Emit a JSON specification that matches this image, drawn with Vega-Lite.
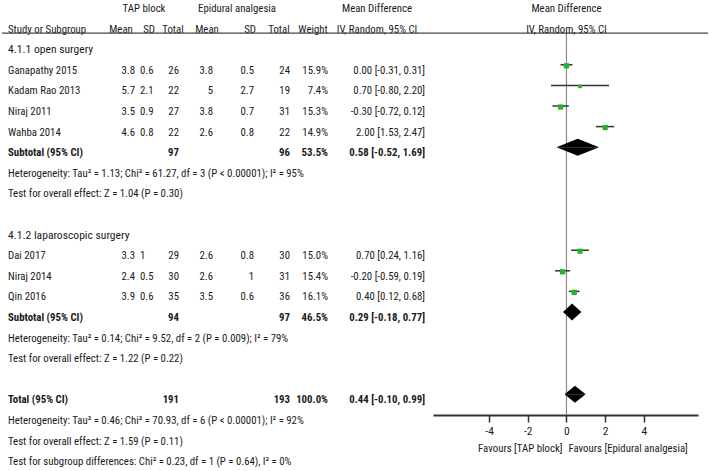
{
  "$schema": "https://vega.github.io/schema/vega-lite/v6.json",
  "width": 709,
  "height": 471,
  "autosize": {"type": "fit", "contains": "padding"},
  "padding": 0,
  "config": {
    "view": {"stroke": null},
    "text": {"font": "Roboto Condensed", "fontSize": 10.8, "color": "#1a1a1a", "baseline": "middle", "dy": 6},
    "axis": {"labelFont": "Roboto Condensed", "grid": false}
  },
  "datasets": {
    "rows": [
      {"row": 3, "kind": "study", "study": "Ganapathy 2015", "m1": "3.8", "sd1": "0.6", "n1": "26", "m2": "3.8", "sd2": "0.5", "n2": "24", "w": "15.9%", "md": "0.00 [-0.31, 0.31]", "weight": 15.9, "est": 0.0, "lo": -0.31, "hi": 0.31},
      {"row": 4, "kind": "study", "study": "Kadam Rao 2013", "m1": "5.7", "sd1": "2.1", "n1": "22", "m2": "5", "sd2": "2.7", "n2": "19", "w": "7.4%", "md": "0.70 [-0.80, 2.20]", "weight": 7.4, "est": 0.7, "lo": -0.8, "hi": 2.2},
      {"row": 5, "kind": "study", "study": "Niraj 2011", "m1": "3.5", "sd1": "0.9", "n1": "27", "m2": "3.8", "sd2": "0.7", "n2": "31", "w": "15.3%", "md": "-0.30 [-0.72, 0.12]", "weight": 15.3, "est": -0.3, "lo": -0.72, "hi": 0.12},
      {"row": 6, "kind": "study", "study": "Wahba 2014", "m1": "4.6", "sd1": "0.8", "n1": "22", "m2": "2.6", "sd2": "0.8", "n2": "22", "w": "14.9%", "md": "2.00 [1.53, 2.47]", "weight": 14.9, "est": 2.0, "lo": 1.53, "hi": 2.47},
      {"row": 7, "kind": "subtotal", "study": "Subtotal (95% CI)", "n1": "97", "n2": "96", "w": "53.5%", "md": "0.58 [-0.52, 1.69]", "weight": 53.5, "est": 0.58, "lo": -0.52, "hi": 1.69},
      {"row": 12, "kind": "study", "study": "Dai 2017", "m1": "3.3", "sd1": "1", "n1": "29", "m2": "2.6", "sd2": "0.8", "n2": "30", "w": "15.0%", "md": "0.70 [0.24, 1.16]", "weight": 15.0, "est": 0.7, "lo": 0.24, "hi": 1.16},
      {"row": 13, "kind": "study", "study": "Niraj 2014", "m1": "2.4", "sd1": "0.5", "n1": "30", "m2": "2.6", "sd2": "1", "n2": "31", "w": "15.4%", "md": "-0.20 [-0.59, 0.19]", "weight": 15.4, "est": -0.2, "lo": -0.59, "hi": 0.19},
      {"row": 14, "kind": "study", "study": "Qin 2016", "m1": "3.9", "sd1": "0.6", "n1": "35", "m2": "3.5", "sd2": "0.6", "n2": "36", "w": "16.1%", "md": "0.40 [0.12, 0.68]", "weight": 16.1, "est": 0.4, "lo": 0.12, "hi": 0.68},
      {"row": 15, "kind": "subtotal", "study": "Subtotal (95% CI)", "n1": "94", "n2": "97", "w": "46.5%", "md": "0.29 [-0.18, 0.77]", "weight": 46.5, "est": 0.29, "lo": -0.18, "hi": 0.77},
      {"row": 19, "kind": "total", "study": "Total (95% CI)", "n1": "191", "n2": "193", "w": "100.0%", "md": "0.44 [-0.10, 0.99]", "weight": 100, "est": 0.44, "lo": -0.1, "hi": 0.99}
    ],
    "notes": [
      {"row": 2, "col": "study", "kind": "subgroup", "text": "4.1.1 open surgery"},
      {"row": 8, "col": "study", "kind": "stat", "text": "Heterogeneity: Tau² = 1.13; Chi² = 61.27, df = 3 (P < 0.00001); I² = 95%"},
      {"row": 9, "col": "study", "kind": "stat", "text": "Test for overall effect: Z = 1.04 (P = 0.30)"},
      {"row": 11, "col": "study", "kind": "subgroup", "text": "4.1.2 laparoscopic surgery"},
      {"row": 16, "col": "study", "kind": "stat", "text": "Heterogeneity: Tau² = 0.14; Chi² = 9.52, df = 2 (P = 0.009); I² = 79%"},
      {"row": 17, "col": "study", "kind": "stat", "text": "Test for overall effect: Z = 1.22 (P = 0.22)"},
      {"row": 20, "col": "study", "kind": "stat", "text": "Heterogeneity: Tau² = 0.46; Chi² = 70.93, df = 6 (P < 0.00001); I² = 92%"},
      {"row": 21, "col": "study", "kind": "stat", "text": "Test for overall effect: Z = 1.59 (P = 0.11)"},
      {"row": 22, "col": "study", "kind": "stat", "text": "Test for subgroup differences: Chi² = 0.23, df = 1 (P = 0.64), I² = 0%"}
    ],
    "headers": [
      {"row": 0, "col": "tap", "text": "TAP block"},
      {"row": 0, "col": "epi", "text": "Epidural analgesia"},
      {"row": 0, "col": "hmd", "text": "Mean Difference"},
      {"row": 1, "col": "study", "text": "Study or Subgroup"},
      {"row": 1, "col": "hm1", "text": "Mean"},
      {"row": 1, "col": "hsd1", "text": "SD"},
      {"row": 1, "col": "hn1", "text": "Total"},
      {"row": 1, "col": "hm2", "text": "Mean"},
      {"row": 1, "col": "hsd2", "text": "SD"},
      {"row": 1, "col": "hn2", "text": "Total"},
      {"row": 1, "col": "hw", "text": "Weight"},
      {"row": 1, "col": "hmd", "text": "IV, Random, 95% CI"}
    ],
    "columns": [
      {"col": "study", "ci": 0}, {"col": "hm1", "ci": 1}, {"col": "m1", "ci": 2}, {"col": "sd1", "ci": 3},
      {"col": "tap", "ci": 4}, {"col": "hsd1", "ci": 5}, {"col": "hn1", "ci": 6}, {"col": "n1", "ci": 7},
      {"col": "hm2", "ci": 8}, {"col": "m2", "ci": 9}, {"col": "epi", "ci": 10}, {"col": "hsd2", "ci": 11},
      {"col": "sd2", "ci": 12}, {"col": "hn2", "ci": 13}, {"col": "n2", "ci": 14}, {"col": "hw", "ci": 15},
      {"col": "w", "ci": 16}, {"col": "hmd", "ci": 17}, {"col": "md", "ci": 18}
    ],
    "plotHeaders": [
      {"row": 0, "text": "Mean Difference"},
      {"row": 1, "text": "IV, Random, 95% CI"}
    ],
    "favours": [
      {"side": "left", "text": "Favours [TAP block]"},
      {"side": "right", "text": "Favours [Epidural analgesia]"}
    ],
    "origin": [
      {"value": 0}
    ]
  },
  "resolve": {"scale": {"x": "independent"}, "axis": {"x": "independent"}},
  "layer": [
    {
      "layer": [
        {
          "data": {"name": "headers"},
          "transform": [
            {"lookup": "col", "from": {"data": {"name": "columns"}, "key": "col", "fields": ["ci"]}},
            {"filter": "datum.col !== 'study'"}
          ],
          "mark": {"type": "text", "align": "center"},
          "encoding": {
            "x": {"field": "ci", "type": "quantitative", "axis": null,
              "scale": {
                "type": "linear", "nice": false, "zero": false,
                "domain": [0, 1, 2, 3, 4, 5, 6, 7, 8, 9, 10, 11, 12, 13, 14, 15, 16, 17, 18],
                "range": [8, 121, 135, 140, 144, 149, 173, 179, 207, 213, 237, 250, 254, 279, 290, 313, 328, 377, 425]
              }
            },
            "y": {"field": "row", "type": "quantitative", "scale": {"domain": [-0.146, 22.72], "reverse": true, "nice": false, "zero": false}, "axis": null},
            "text": {"field": "text"}
          }
        },
        {
          "data": {"name": "headers"},
          "transform": [
            {"lookup": "col", "from": {"data": {"name": "columns"}, "key": "col", "fields": ["ci"]}},
            {"filter": "datum.col === 'study'"}
          ],
          "mark": {"type": "text", "align": "left"},
          "encoding": {
            "x": {"field": "ci", "type": "quantitative"},
            "y": {"field": "row", "type": "quantitative"},
            "text": {"field": "text"}
          }
        },
        {
          "data": {"name": "notes"},
          "transform": [
            {"filter": "datum.kind === 'stat'"},
            {"lookup": "col", "from": {"data": {"name": "columns"}, "key": "col", "fields": ["ci"]}}
          ],
          "mark": {"type": "text", "align": "left"},
          "encoding": {"x": {"field": "ci", "type": "quantitative"}, "y": {"field": "row", "type": "quantitative"}, "text": {"field": "text"}}
        },
        {
          "data": {"name": "notes"},
          "transform": [
            {"filter": "datum.kind === 'subgroup'"},
            {"lookup": "col", "from": {"data": {"name": "columns"}, "key": "col", "fields": ["ci"]}}
          ],
          "mark": {"type": "text", "align": "left", "fontSize": 11.6},
          "encoding": {"x": {"field": "ci", "type": "quantitative"}, "y": {"field": "row", "type": "quantitative"}, "text": {"field": "text"}}
        },
        {
          "data": {"name": "rows"},
          "transform": [
            {"fold": ["study", "m1", "sd1", "n1", "m2", "sd2", "n2", "w", "md"], "as": ["col", "text"]},
            {"filter": "isValid(datum.text) && (datum.col === 'study' || datum.col === 'sd1') && datum.kind === 'study'"},
            {"lookup": "col", "from": {"data": {"name": "columns"}, "key": "col", "fields": ["ci"]}}
          ],
          "mark": {"type": "text", "align": "left"},
          "encoding": {"x": {"field": "ci", "type": "quantitative"}, "y": {"field": "row", "type": "quantitative"}, "text": {"field": "text"}}
        },
        {
          "data": {"name": "rows"},
          "transform": [
            {"fold": ["study", "m1", "sd1", "n1", "m2", "sd2", "n2", "w", "md"], "as": ["col", "text"]},
            {"filter": "isValid(datum.text) && datum.col === 'study' && datum.kind !== 'study'"},
            {"lookup": "col", "from": {"data": {"name": "columns"}, "key": "col", "fields": ["ci"]}}
          ],
          "mark": {"type": "text", "align": "left", "fontWeight": "bold"},
          "encoding": {"x": {"field": "ci", "type": "quantitative"}, "y": {"field": "row", "type": "quantitative"}, "text": {"field": "text"}}
        },
        {
          "data": {"name": "rows"},
          "transform": [
            {"fold": ["study", "m1", "sd1", "n1", "m2", "sd2", "n2", "w", "md"], "as": ["col", "text"]},
            {"filter": "isValid(datum.text) && datum.col !== 'study' && datum.col !== 'sd1' && datum.kind === 'study'"},
            {"lookup": "col", "from": {"data": {"name": "columns"}, "key": "col", "fields": ["ci"]}}
          ],
          "mark": {"type": "text", "align": "right"},
          "encoding": {"x": {"field": "ci", "type": "quantitative"}, "y": {"field": "row", "type": "quantitative"}, "text": {"field": "text"}}
        },
        {
          "data": {"name": "rows"},
          "transform": [
            {"fold": ["study", "m1", "sd1", "n1", "m2", "sd2", "n2", "w", "md"], "as": ["col", "text"]},
            {"filter": "isValid(datum.text) && datum.col !== 'study' && datum.col !== 'sd1' && datum.kind !== 'study'"},
            {"lookup": "col", "from": {"data": {"name": "columns"}, "key": "col", "fields": ["ci"]}}
          ],
          "mark": {"type": "text", "align": "right", "fontWeight": "bold"},
          "encoding": {"x": {"field": "ci", "type": "quantitative"}, "y": {"field": "row", "type": "quantitative"}, "text": {"field": "text"}}
        }
      ]
    },
    {
      "layer": [
        {
          "data": {"name": "origin"},
          "mark": {"type": "rule", "color": "#8a8a8a", "strokeWidth": 1.2},
          "encoding": {
            "x": {"field": "value", "type": "quantitative",
              "scale": {"domain": [-6.9, 6.8], "range": [433, 698], "nice": false, "zero": false},
              "axis": {"values": [-4, -2, 0, 2, 4], "orient": "bottom", "offset": -56, "title": null,
                "domainColor": "#333", "domainWidth": 2, "tickColor": "#333", "tickWidth": 1.5, "tickSize": 7,
                "labelFontSize": 11.5, "labelColor": "#1a1a1a", "labelPadding": 3, "labelExpr": "datum.value + ''",
                "labelFont": "Roboto Condensed"}
            },
            "y": {"datum": 1.46, "type": "quantitative"},
            "y2": {"datum": 20}
          }
        },
        {
          "data": {"name": "origin"},
          "mark": {"type": "rule", "color": "#444", "strokeWidth": 1.3},
          "encoding": {
            "x": {"value": 2},
            "x2": {"value": "width"},
            "y": {"datum": 1.46, "type": "quantitative"}
          }
        },
        {
          "data": {"name": "rows"},
          "transform": [{"filter": "datum.kind === 'study'"}],
          "mark": {"type": "rule", "color": "#333", "strokeWidth": 1.5},
          "encoding": {
            "x": {"field": "lo", "type": "quantitative"},
            "x2": {"field": "hi"},
            "y": {"field": "row", "type": "quantitative"}
          }
        },
        {
          "data": {"name": "rows"},
          "transform": [{"filter": "datum.kind === 'study'"}],
          "mark": {"type": "point", "shape": "square", "filled": true, "color": "#22b522", "opacity": 1, "yOffset": 1},
          "encoding": {
            "x": {"field": "est", "type": "quantitative"},
            "y": {"field": "row", "type": "quantitative"},
            "size": {"field": "weight", "type": "quantitative", "scale": {"domain": [0, 16], "range": [0, 28]}, "legend": null}
          }
        },
        {
          "data": {"name": "rows"},
          "transform": [
            {"filter": "datum.kind !== 'study'"},
            {"fold": ["lo", "est", "hi"], "as": ["part", "xv"]}
          ],
          "mark": {"type": "area", "color": "#000", "opacity": 1, "yOffset": {"expr": "datum.part === 'est' ? -8.5 : 0"}},
          "encoding": {
            "x": {"field": "xv", "type": "quantitative"},
            "y": {"field": "row", "type": "quantitative"},
            "y2": {"field": "row"},
            "detail": {"field": "row", "type": "nominal"}
          }
        },
        {
          "data": {"name": "rows"},
          "transform": [
            {"filter": "datum.kind !== 'study'"},
            {"fold": ["lo", "est", "hi"], "as": ["part", "xv"]}
          ],
          "mark": {"type": "area", "color": "#000", "opacity": 1, "yOffset": {"expr": "datum.part === 'est' ? 8.5 : 0"}},
          "encoding": {
            "x": {"field": "xv", "type": "quantitative"},
            "y": {"field": "row", "type": "quantitative"},
            "y2": {"field": "row"},
            "detail": {"field": "row", "type": "nominal"}
          }
        },
        {
          "data": {"name": "plotHeaders"},
          "mark": {"type": "text", "align": "center"},
          "encoding": {
            "x": {"datum": 0, "type": "quantitative"},
            "y": {"field": "row", "type": "quantitative"},
            "text": {"field": "text"}
          }
        },
        {
          "data": {"name": "favours"},
          "transform": [{"filter": "datum.side === 'left'"}],
          "mark": {"type": "text", "align": "right", "dx": -4},
          "encoding": {
            "x": {"datum": 0, "type": "quantitative"},
            "y": {"datum": 21.36, "type": "quantitative"},
            "text": {"field": "text"}
          }
        },
        {
          "data": {"name": "favours"},
          "transform": [{"filter": "datum.side === 'right'"}],
          "mark": {"type": "text", "align": "left", "dx": 2},
          "encoding": {
            "x": {"datum": 0, "type": "quantitative"},
            "y": {"datum": 21.36, "type": "quantitative"},
            "text": {"field": "text"}
          }
        }
      ]
    }
  ]
}
